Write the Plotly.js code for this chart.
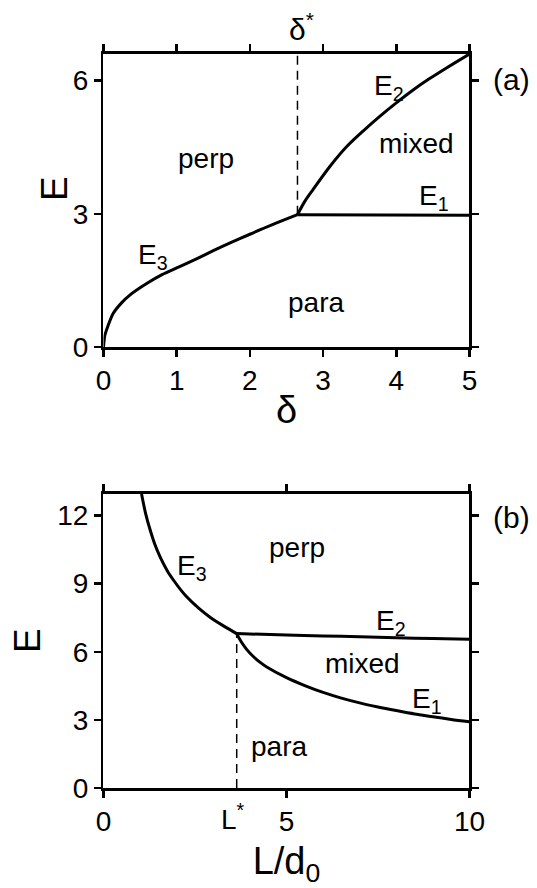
<!DOCTYPE html>
<html>
<head>
<meta charset="utf-8">
<script src="https://cdn.plot.ly/plotly-3.0.1.min.js"></script>
<style>html,body{margin:0;padding:0;background:#fff;}#plot{width:537px;height:888px;}</style>
</head>
<body>
<div id="plot"></div>
<script>
// ---- Panel (a): E vs delta ----
const deltaStar = 2.65;
const deltaE3 = [0, 0.02, 0.06, 0.134, 0.25, 0.36, 0.59, 0.8, 1.04, 1.3, 1.5, 1.73, 2.0, 2.3, 2.65];
const valE3a  = [0, 0.27, 0.47, 0.76, 1.0, 1.17, 1.43, 1.63, 1.81, 2.01, 2.17, 2.345, 2.54, 2.75, 2.98];
const deltaE2 = [2.65, 2.75, 2.86, 3.09, 3.32, 3.55, 3.77, 4.0, 4.23, 4.45, 4.68, 5.0];
const valE2a  = [2.98, 3.28, 3.54, 4.06, 4.51, 4.87, 5.19, 5.5, 5.79, 6.04, 6.28, 6.6];
const deltaE1 = [2.65, 5.0];
const valE1a  = [2.98, 2.97];
const dashA_E = [2.98, 6.6];

// ---- Panel (b): E vs L/d0 ----
const LStar = 3.64;
const LE3   = [1.04, 1.15, 1.28, 1.4, 1.55, 1.75, 1.92, 2.1, 2.28, 2.6, 2.93, 3.3, 3.64];
const valE3b = [12.95, 12.1, 11.34, 10.75, 10.17, 9.55, 9.14, 8.75, 8.41, 7.92, 7.5, 7.12, 6.8];
const LE2   = [3.64, 5, 6, 7, 8, 9, 10];
const valE2b = [6.8, 6.74, 6.7, 6.66, 6.62, 6.58, 6.55];
const LE1   = [3.64, 3.75, 3.9, 4.1, 4.3, 4.46, 5.0, 5.5, 6.0, 6.5, 7.0, 7.5, 8.0, 8.5, 9.0, 9.5, 10];
const valE1b = [6.8, 6.475, 6.13, 5.78, 5.51, 5.33, 4.86, 4.51, 4.21, 3.96, 3.75, 3.57, 3.41, 3.26, 3.14, 3.02, 2.92];
const dashB_E = [0, 6.8];

// tick labels
const tickA_x = [0, 1, 2, 3, 4, 5];
const tickA_y = [0, 3, 6];
const tickB_x = [0, 5, 10];
const tickB_y = [0, 3, 6, 9, 12];

const FONT = '"Liberation Sans", Arial, Helvetica, sans-serif';
const solid = {color: '#000', width: 3, shape: 'spline', smoothing: 0.8};
const dashed = {color: '#000', width: 1.5, dash: '9px,6px'};

const traces = [
  {x: deltaE3, y: valE3a, mode: 'lines', line: solid, xaxis: 'x', yaxis: 'y', hoverinfo: 'skip'},
  {x: deltaE2, y: valE2a, mode: 'lines', line: solid, xaxis: 'x', yaxis: 'y', hoverinfo: 'skip'},
  {x: deltaE1, y: valE1a, mode: 'lines', line: solid, xaxis: 'x', yaxis: 'y', hoverinfo: 'skip'},
  {x: [deltaStar, deltaStar], y: dashA_E, mode: 'lines', line: dashed, xaxis: 'x', yaxis: 'y', hoverinfo: 'skip'},
  {x: LE3, y: valE3b, mode: 'lines', line: solid, xaxis: 'x2', yaxis: 'y2', hoverinfo: 'skip'},
  {x: LE2, y: valE2b, mode: 'lines', line: solid, xaxis: 'x2', yaxis: 'y2', hoverinfo: 'skip'},
  {x: LE1, y: valE1b, mode: 'lines', line: solid, xaxis: 'x2', yaxis: 'y2', hoverinfo: 'skip'},
  {x: [LStar, LStar], y: dashB_E, mode: 'lines', line: dashed, xaxis: 'x2', yaxis: 'y2', hoverinfo: 'skip'}
];

function axisBase(extra) {
  return Object.assign({
    showline: true, linecolor: '#000', linewidth: 2.5, mirror: 'ticks',
    ticks: 'outside', ticklen: 7, tickwidth: 2.5, tickcolor: '#000',
    tickmode: 'array', showgrid: false, zeroline: false,
    tickfont: {family: FONT, size: 28, color: '#000'}, fixedrange: true
  }, extra);
}

function lab(xref, yref, x, y, text, size, extra) {
  return Object.assign({xref: xref, yref: yref, x: x, y: y, text: text, showarrow: false,
    xanchor: 'center', yanchor: 'middle', font: {family: FONT, size: size, color: '#000'}}, extra || {});
}

const XD = [0.1927, 0.8743];
const layout = {
  width: 537, height: 888, autosize: false,
  margin: {l: 0, r: 0, t: 0, b: 0},
  paper_bgcolor: '#fff', plot_bgcolor: '#fff',
  showlegend: false,
  font: {family: FONT, color: '#000'},
  xaxis: axisBase({domain: XD, range: [0, 5], anchor: 'y', tickvals: tickA_x,
    title: {text: 'δ', font: {family: FONT, size: 38}, standoff: 2}}),
  yaxis: axisBase({domain: [0.6092, 0.9392], range: [0, 6.6], anchor: 'x', tickvals: tickA_y}),
  xaxis2: axisBase({domain: XD, range: [0, 10], anchor: 'y2', tickvals: tickB_x,
    title: {text: 'L/d<sub>0</sub>', font: {family: FONT, size: 38}, standoff: 16}}),
  yaxis2: axisBase({domain: [0.1126, 0.4437], range: [0, 12.95], anchor: 'x2', tickvals: tickB_y}),
  annotations: [
    // y-axis titles (rotated)
    lab('paper', 'paper', 54/537, 1 - 189/888, 'E', 37, {textangle: -90}),
    lab('paper', 'paper', 27/537, 1 - 641/888, 'E', 37, {textangle: -90}),

    lab('x', 'y', 1.40, 4.24, 'perp', 28),
    lab('x', 'y', 4.28, 4.58, 'mixed', 28),
    lab('x', 'y', 2.91, 1.01, 'para', 28),
    lab('x', 'y', 3.9, 5.85, 'E<sub>2</sub>', 28),
    lab('x', 'y', 4.52, 3.37, 'E<sub>1</sub>', 28),
    lab('x', 'y', 0.67, 2.05, 'E<sub>3</sub>', 28),
    lab('x', 'paper', deltaStar, 1 - 27/888, 'δ<sup>*</sup>', 30, {xshift: 4}),
    lab('paper', 'paper', 511/537, 1 - 79/888, '(a)', 30),

    lab('x2', 'y2', 5.3, 10.6, 'perp', 28),
    lab('x2', 'y2', 7.07, 5.48, 'mixed', 28),
    lab('x2', 'y2', 4.79, 1.82, 'para', 28),
    lab('x2', 'y2', 7.86, 7.31, 'E<sub>2</sub>', 28),
    lab('x2', 'y2', 8.84, 3.87, 'E<sub>1</sub>', 28),
    lab('x2', 'y2', 2.42, 9.7, 'E<sub>3</sub>', 28),
    lab('x2', 'paper', LStar, 1 - 817/888, 'L<sup>*</sup>', 28, {xshift: -4}),
    lab('paper', 'paper', 511/537, 1 - 517/888, '(b)', 30)
  ]
};

Plotly.newPlot('plot', traces, layout, {staticPlot: true, displayModeBar: false});
</script>
</body>
</html>
